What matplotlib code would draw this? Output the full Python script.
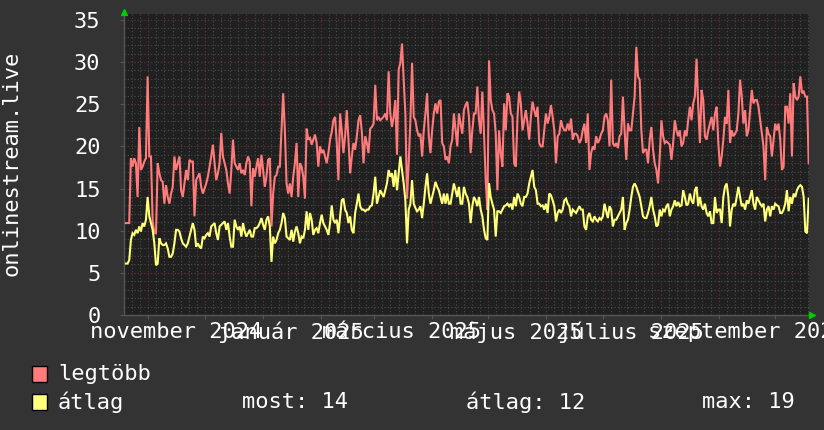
import numpy as np
import pandas as pd
import matplotlib
matplotlib.use("Agg")
import matplotlib.pyplot as plt
from matplotlib.patches import Rectangle

# ---------------- data ----------------
start_date = "2024-10-20"
end_date = "2025-10-18 20:00"

legtobb = [
    10.9,10.9,10.9,18.6,17.6,18.6,18.0,14.0,22.3,17.2,
    17.6,18.2,18.6,28.3,18.8,18.8,11.1,9.7,9.7,18.0,
    16.8,16.0,15.8,13.2,15.4,14.0,13.2,14.4,15.2,18.8,
    17.2,18.0,18.8,14.8,14.0,15.6,17.2,16.0,18.4,18.2,
    18.2,11.7,16.0,16.4,16.8,15.2,14.4,15.0,15.6,16.4,
    17.6,18.8,20.2,18.0,16.0,16.8,18.0,21.6,18.8,18.0,
    17.2,15.6,14.4,17.2,20.8,18.0,17.6,17.2,18.0,16.8,
    17.2,16.6,18.0,18.8,18.2,12.9,17.4,16.4,17.6,18.6,
    16.4,19.0,17.2,15.2,16.4,18.4,18.6,10.5,14.4,16.4,
    16.6,17.6,17.6,21.9,26.3,21.9,15.6,14.4,15.6,14.0,
    16.4,18.0,20.4,14.0,18.0,17.6,16.4,13.8,22.1,20.8,
    21.0,20.2,20.8,21.4,20.4,17.6,20.0,19.2,19.6,18.8,
    18.0,19.2,20.8,21.7,23.1,23.5,20.4,16.0,23.9,21.9,
    19.2,21.2,24.3,20.8,16.8,18.8,20.4,19.6,
    21.2,23.1,23.7,21.7,18.0,21.2,20.4,19.2,22.1,22.3,
    22.7,27.3,23.1,23.5,23.1,23.3,23.5,23.9,23.1,28.9,
    23.9,22.3,23.5,25.5,19.0,29.1,29.9,32.2,27.9,23.9,
    13.8,18.0,23.1,29.9,23.5,23.1,21.9,21.2,21.5,18.8,
    21.9,23.9,26.3,21.2,19.2,21.9,23.9,25.1,23.9,25.3,
    25.5,20.4,20.0,18.4,18.8,18.0,20.0,20.8,23.9,21.9,
    20.0,23.9,22.7,21.5,24.3,24.9,25.3,23.5,
    19.2,21.9,23.9,23.9,27.1,23.1,21.5,26.5,21.5,16.0,
    12.5,30.2,25.5,24.3,23.9,21.5,14.8,21.9,19.2,17.6,
    25.1,21.9,26.3,25.9,23.9,23.5,18.0,17.6,23.5,26.5,
    25.1,21.9,23.1,24.3,22.7,20.8,23.5,25.3,24.3,23.5,
    24.7,20.4,20.0,20.0,21.9,23.9,22.7,23.5,24.9,23.5,
    21.9,18.0,21.2,21.5,23.1,22.3,21.9,21.9,22.7,21.9,
    23.3,20.8,21.5,21.5,21.2,20.4,20.8,21.9,
    22.7,20.4,23.9,17.2,19.2,20.0,19.6,21.2,20.4,20.8,
    21.5,21.9,23.5,23.9,23.1,20.0,27.9,20.4,20.0,20.4,
    19.8,21.2,21.5,25.9,21.9,18.4,22.7,21.9,21.9,23.9,
    25.9,31.8,28.3,27.9,21.9,19.2,19.6,19.6,18.0,20.8,
    22.3,19.6,18.0,17.2,15.6,18.8,23.1,21.2,20.4,20.6,
    20.4,20.2,18.4,20.4,23.1,21.9,21.2,21.9,20.0,20.4,
    21.9,21.2,23.1,24.7,23.1,25.1,25.9,30.4,
    24.7,20.4,26.7,25.5,21.2,20.8,21.9,22.7,23.5,21.9,
    23.9,24.7,20.4,17.6,18.8,20.8,23.5,22.7,26.7,20.4,
    21.9,21.2,21.5,21.9,23.9,27.9,25.9,22.7,24.3,21.2,
    21.9,24.3,26.7,25.1,25.5,25.5,24.7,23.1,21.5,20.0,
    16.0,22.3,21.5,21.2,18.8,20.8,22.7,21.9,22.7,20.8,
    17.2,17.6,24.7,24.7,22.7,26.3,18.8,27.5,25.9,25.5,
    25.9,28.3,26.3,26.5,25.9,25.9,18.0,
]

atlag = [
    6.1,6.1,6.5,8.9,9.7,9.5,10.1,9.7,10.5,9.9,
    10.9,10.5,11.3,14.0,11.7,10.9,10.1,8.5,5.9,6.1,
    9.1,8.5,8.3,8.3,8.5,7.9,6.9,6.9,7.3,8.5,
    10.1,10.1,9.9,9.1,8.5,8.3,8.1,8.5,9.3,10.1,
    10.9,10.1,8.1,8.5,8.1,7.9,9.3,9.1,9.5,9.7,
    9.3,10.5,10.7,10.9,9.7,8.9,10.5,10.7,10.9,11.1,
    10.1,10.9,9.3,8.1,8.1,11.3,10.5,10.1,10.5,9.3,
    10.9,9.9,9.3,9.7,10.1,9.3,9.3,10.3,10.3,10.5,
    10.9,11.5,10.7,10.1,11.3,11.7,10.5,6.3,9.3,8.5,
    8.9,9.7,10.1,10.9,12.1,11.5,9.3,9.1,8.9,10.1,
    8.7,9.9,10.5,9.7,8.5,9.3,9.1,10.1,12.3,10.1,
    12.1,11.3,9.5,10.1,10.3,9.7,10.9,11.9,10.9,10.5,
    10.1,9.5,10.9,13.0,11.3,10.9,11.3,9.7,11.7,13.6,
    13.8,12.5,12.1,10.9,11.7,10.1,9.7,12.1,
    13.2,14.4,12.9,12.5,12.5,12.3,12.5,12.5,12.9,13.0,
    14.4,16.4,13.2,14.0,14.8,14.4,14.0,14.8,15.6,17.2,
    16.4,16.8,15.2,17.2,14.8,16.8,18.8,17.2,15.6,13.6,
    8.5,12.5,13.2,16.0,13.2,12.7,12.3,12.5,12.9,11.5,
    13.2,15.2,16.8,14.4,13.2,14.0,14.8,15.8,15.2,14.8,
    14.0,13.2,14.4,13.2,14.4,13.2,13.2,14.4,15.6,14.8,
    14.0,15.2,13.2,13.2,15.2,14.4,14.0,13.2,
    10.9,12.9,14.0,13.6,12.9,14.0,12.5,11.7,10.1,9.1,
    8.9,15.6,14.0,13.2,12.5,9.3,12.3,12.3,12.1,12.5,
    12.9,13.0,13.2,12.9,13.2,12.5,14.0,12.9,14.4,14.0,
    13.2,12.9,14.0,14.0,14.4,15.6,16.4,17.2,15.2,14.8,
    13.2,13.2,12.9,13.0,12.5,13.2,12.1,14.4,14.2,13.6,
    12.9,11.1,12.1,12.5,12.1,12.5,13.6,13.8,13.2,12.9,
    11.7,12.5,12.3,12.1,12.5,12.9,12.5,12.5,
    10.5,10.1,11.7,12.1,11.3,11.1,11.7,11.3,11.1,11.5,
    11.3,11.7,13.2,12.3,11.5,12.9,12.5,10.5,11.3,11.3,
    11.7,12.1,12.5,14.0,10.1,10.9,11.3,12.5,14.0,15.2,
    15.6,15.2,14.6,14.0,12.9,11.7,11.5,11.5,12.1,12.9,
    14.0,12.5,11.7,10.5,10.7,12.5,11.7,12.5,12.3,12.9,
    13.2,11.7,12.5,12.9,13.6,12.9,13.4,12.9,13.0,14.8,
    14.0,13.0,13.2,14.4,13.6,13.2,14.8,15.2,
    12.9,14.0,12.9,12.5,13.2,12.1,11.7,12.3,10.9,10.9,
    14.0,12.1,12.5,12.5,10.9,14.0,15.2,15.6,14.0,10.5,
    12.5,13.2,12.9,14.0,15.2,14.0,12.9,13.2,12.5,13.6,
    13.2,14.0,14.8,13.2,12.5,14.0,13.6,13.2,12.9,13.2,
    11.1,12.5,12.9,11.7,12.9,12.5,13.2,13.0,12.9,12.1,
    12.1,12.5,13.2,14.8,12.3,14.0,13.2,14.4,14.0,14.8,
    15.2,15.4,15.2,14.0,9.9,9.7,13.8,
]

series_names = ["legtöbb", "átlag"]
ylabel = "onlinestream.live"
yticks = [0, 5, 10, 15, 20, 25, 30, 35]
xlabel_dates = ["2024-11-16", "2025-01-16", "2025-03-16", "2025-05-16", "2025-07-16", "2025-09-16"]
xlabel_texts = ["november 2024", "január 2025", "március 2025", "május 2025", "július 2025", "szeptember 2025"]
stat_texts = ["most: 14", "átlag: 12", "max: 19"]

# ---------------- style ----------------
BG = "#333333"
PLOT_BG = "#202020"
MINOR = "#4c4c4c"
MAJOR = "#6e3434"
RED = "#ff7b7b"
YEL = "#ffff7a"
TXT = "#ffffff"
FONT = "DejaVu Sans Mono"
FS = 15.8

plt.rcParams["font.family"] = [FONT, "DejaVu Sans"]

W, H = 824, 430
fig = plt.figure(figsize=(W / 100, H / 100), dpi=100, facecolor=BG)
L, R, T, B = 124, 809, 14, 315
ax = fig.add_axes([L / W, 1 - B / H, (R - L) / W, (B - T) / H])
ax.set_facecolor(PLOT_BG)

times = pd.date_range(start_date, end_date, periods=len(legtobb))
x0 = pd.Timestamp("2024-10-19")
x1 = pd.Timestamp("2025-10-19")

# grid: minor vertical (7 per month), major at month starts
months = pd.date_range("2024-10-01", "2025-11-01", freq="MS")
for i in range(len(months) - 1):
    m0, m1 = months[i], months[i + 1]
    for k in range(1, 7):
        t = m0 + (m1 - m0) * k / 7
        if x0 < t < x1:
            ax.axvline(t, color=MINOR, lw=0.8, ls=(0, (1, 2)), zorder=1)
for m in months:
    if x0 < m < x1:
        ax.axvline(m, color=MAJOR, lw=0.8, ls=(0, (1, 2)), zorder=1.5)
for v in np.arange(1, 36):
    if v % 5:
        ax.axhline(v, color=MINOR, lw=0.8, ls=(0, (1, 2)), zorder=1)
    else:
        ax.axhline(v, color=MAJOR, lw=0.8, ls=(0, (1, 2)), zorder=1.5)

ax.plot(times, legtobb, color=RED, lw=1.5, zorder=3, solid_joinstyle="miter")
ax.plot(times, atlag, color=YEL, lw=1.5, zorder=4, solid_joinstyle="miter")

ax.set_xlim(x0, x1)
ax.set_ylim(0, 35.7)

for s in ["top", "right"]:
    ax.spines[s].set_visible(False)
for s in ["left", "bottom"]:
    ax.spines[s].set_color("#555555")
    ax.spines[s].set_linewidth(1.0)

ax.set_yticks(yticks)
ax.set_yticklabels([str(v) for v in yticks], color=TXT, fontsize=FS, family=FONT)
ax.tick_params(axis="y", length=3, color="#555555", pad=14)
ax.set_xticks(months[(months > x0) & (months < x1)])
ax.set_xticklabels([])
ax.tick_params(axis="x", length=3, color="#555555")

xtr = ax.get_xaxis_transform()
for d, txt in zip(xlabel_dates, xlabel_texts):
    ax.text(pd.Timestamp(d), -0.056, txt, transform=xtr, ha="center", va="center",
            color=TXT, fontsize=FS, family=FONT, clip_on=False)

fig.text(12 / W, 1 - 163 / H, ylabel, rotation=90, ha="center", va="center",
         color=TXT, fontsize=FS, family=FONT)

# green arrows at axis ends
ax.plot([0], [1.005], marker="^", color="#00cc00", ms=5, transform=ax.transAxes, clip_on=False, zorder=5)
ax.plot([1.004], [0], marker=">", color="#00cc00", ms=5, transform=ax.transAxes, clip_on=False, zorder=5)

# legend
for i, (name, col) in enumerate(zip(series_names, [RED, YEL])):
    yc = 374 + i * 28
    fig.patches.append(Rectangle((32 / W, 1 - (yc + 8) / H), 15 / W, 16 / H,
                                 transform=fig.transFigure, facecolor=col,
                                 edgecolor="black", lw=1.0))
    fig.text(58 / W, 1 - yc / H, name, ha="left", va="center", color=TXT,
             fontsize=FS, family=FONT)
for xp, txt in zip([242, 466, 702], stat_texts):
    fig.text(xp / W, 1 - 402 / H, txt, ha="left", va="center", color=TXT,
             fontsize=FS, family=FONT)

fig.savefig("out.png", dpi=100, facecolor=BG)
